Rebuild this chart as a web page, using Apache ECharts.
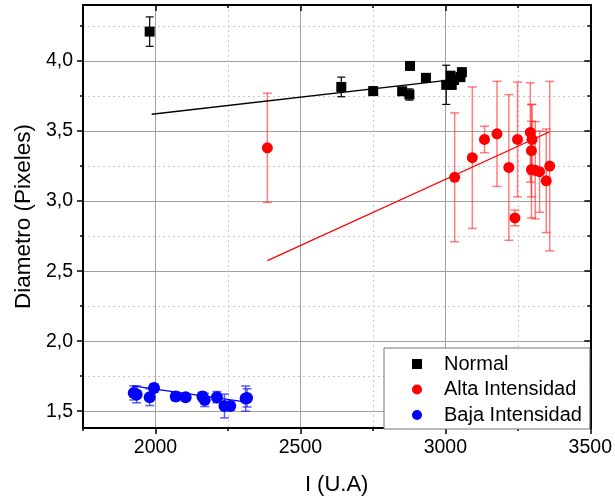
<!DOCTYPE html>
<html>
<head>
<meta charset="utf-8">
<script src="https://cdn.jsdelivr.net/npm/echarts@6/dist/echarts.min.js"></script>
<style>
  html, body { margin: 0; padding: 0; background: #fff; }
  #chart { width: 615px; height: 501px; }
</style>
</head>
<body>
<div id="chart"></div>
<script>
// Normal group: intensity, diameter, error
const normalX   = [1980, 2641, 2751, 2851, 2876, 2878, 2933, 3003, 3018, 3022, 3030, 3052, 3057];
const normalY   = [4.21, 3.815, 3.785, 3.784, 3.761, 3.965, 3.88, 3.83, 3.895, 3.83, 3.865, 3.885, 3.92];
const normalErr = [0.105, 0.07, 0.03, 0.02, 0.04, 0.02, 0.02, 0.14, 0.03, 0.03, 0.03, 0.03, 0.03];

// High intensity group
const altaX   = [2386, 3032, 3093, 3135, 3178, 3219, 3240, 3249, 3293, 3299, 3297, 3297, 3310, 3325, 3348, 3360];
const altaY   = [3.38, 3.17, 3.31, 3.44, 3.48, 3.24, 2.88, 3.44, 3.49, 3.44, 3.36, 3.225, 3.22, 3.21, 3.145, 3.25];
const altaErr = [0.39, 0.46, 0.505, 0.095, 0.375, 0.52, 0.056, 0.41, 0.355, 0.25, 0.33, 0.345, 0.347, 0.29, 0.37, 0.605];

// Low intensity group
const bajaX   = [1925, 1935, 1980, 1995, 2070, 2104, 2162, 2170, 2212, 2238, 2258, 2311, 2316];
const bajaY   = [1.63, 1.62, 1.60, 1.665, 1.605, 1.60, 1.605, 1.58, 1.60, 1.537, 1.537, 1.59, 1.595];
const bajaErr = [0.05, 0.06, 0.06, 0.03, 0.03, 0.02, 0.03, 0.047, 0.04, 0.085, 0.03, 0.09, 0.065];

// Linear fit endpoints
const fitNormalX = [1987, 3057], fitNormalY = [3.62, 3.875];
const fitAltaX   = [2386, 3360], fitAltaY   = [2.575, 3.495];
const fitBajaX   = [1920, 2315], fitBajaY   = [1.68, 1.565];

// Axis ranges and ticks
const xRange = [1750, 3500];
const yRange = [1.38, 4.40];
const xMajor = [2000, 2500, 3000, 3500];
const xMinor = [1750, 2250, 2750, 3250];
const yMajor = [1.5, 2.0, 2.5, 3.0, 3.5, 4.0];
const yMinor = [1.75, 2.25, 2.75, 3.25, 3.75, 4.25];

const seriesNames = ['Normal', 'Alta Intensidad', 'Baja Intensidad'];

const FONT = 'Liberation Sans, Arial, sans-serif';

function zip(xs, ys) { return xs.map((x, i) => [x, ys[i]]); }
function zip3(xs, ys, es) { return xs.map((x, i) => [x, ys[i], es[i]]); }

function errorBars(color, cap, width) {
  return function (params, api) {
    const x = api.value(0), y = api.value(1), e = api.value(2);
    const t = api.coord([x, y + e]);
    const b = api.coord([x, y - e]);
    const st = { stroke: color, lineWidth: width };
    return {
      type: 'group',
      children: [
        { type: 'line', shape: { x1: t[0], y1: t[1], x2: b[0], y2: b[1] }, style: st },
        { type: 'line', shape: { x1: t[0] - cap, y1: t[1], x2: t[0] + cap, y2: t[1] }, style: st },
        { type: 'line', shape: { x1: b[0] - cap, y1: b[1], x2: b[0] + cap, y2: b[1] }, style: st }
      ]
    };
  };
}

function xAxisDef(pos, ticks, opts) {
  return Object.assign({
    type: 'value', position: pos, min: xRange[0], max: xRange[1],
    axisLine: { show: true, lineStyle: { color: '#000', width: 2 } },
    axisTick: { show: true, customValues: ticks, length: 6, inside: false, lineStyle: { color: '#000', width: 1.5 } },
    axisLabel: { show: false },
    splitLine: { show: false }
  }, opts);
}
function yAxisDef(pos, ticks, opts) {
  return Object.assign({
    type: 'value', position: pos, min: yRange[0], max: yRange[1],
    axisLine: { show: true, lineStyle: { color: '#000', width: 2 } },
    axisTick: { show: true, customValues: ticks, length: 6, inside: false, lineStyle: { color: '#000', width: 1.5 } },
    axisLabel: { show: false },
    splitLine: { show: false }
  }, opts);
}

const chart = echarts.init(document.getElementById('chart'), null, { renderer: 'canvas' });

chart.setOption({
  animation: false,
  backgroundColor: '#fff',
  grid: { left: 83, right: 24, top: 5, bottom: 68 },
  legend: {
    data: seriesNames,
    orient: 'vertical',
    left: 384, top: 348,
    padding: [6, 8, 4, 28],
    itemWidth: 10, itemHeight: 10, itemGap: 5.5,
    backgroundColor: '#fff',
    borderColor: '#777', borderWidth: 1,
    textStyle: { fontFamily: FONT, fontSize: 20, color: '#000', padding: [0, 0, 0, 17] },
    z: 20
  },
  xAxis: [
    xAxisDef('bottom', xMinor, {
      axisTick: { show: true, customValues: xMinor, length: 3, lineStyle: { color: '#000', width: 1.5 } },
      splitLine: { show: true, lineStyle: { color: '#c8c8c8', type: [2, 3], width: 1 } }
    }),
    xAxisDef('bottom', xMajor, {
      axisLabel: {
        show: true, customValues: xMajor, margin: 10,
        fontFamily: FONT, fontSize: 19.5, color: '#000',
        formatter: v => String(v)
      },
      splitLine: { show: true, lineStyle: { color: '#a0a0a0', width: 1 } },
      name: 'I (U.A)', nameLocation: 'middle', nameGap: 46,
      nameTextStyle: { fontFamily: FONT, fontSize: 22, color: '#000' }
    }),
    xAxisDef('top', xMinor, {
      axisTick: { show: true, customValues: xMinor, length: 3, inside: true, lineStyle: { color: '#000', width: 1.5 } }
    }),
    xAxisDef('top', xMajor, {
      axisTick: { show: true, customValues: xMajor, length: 6, inside: true, lineStyle: { color: '#000', width: 1.5 } }
    })
  ],
  yAxis: [
    yAxisDef('left', yMinor, {
      axisTick: { show: true, customValues: yMinor, length: 3, lineStyle: { color: '#000', width: 1.5 } },
      splitLine: { show: true, lineStyle: { color: '#c8c8c8', type: [2, 3], width: 1 } }
    }),
    yAxisDef('left', yMajor, {
      axisLabel: {
        show: true, customValues: yMajor, margin: 10,
        fontFamily: FONT, fontSize: 19.5, color: '#000',
        formatter: v => v.toFixed(1).replace('.', ',')
      },
      splitLine: { show: true, lineStyle: { color: '#a0a0a0', width: 1 } },
      name: 'Diametro (Pixeles)', nameLocation: 'middle', nameGap: 46,
      nameTextStyle: { fontFamily: FONT, fontSize: 22.5, color: '#000' }
    }),
    yAxisDef('right', yMinor, {
      axisTick: { show: true, customValues: yMinor, length: 3, inside: true, lineStyle: { color: '#000', width: 1.5 } }
    }),
    yAxisDef('right', yMajor, {
      axisTick: { show: true, customValues: yMajor, length: 6, inside: true, lineStyle: { color: '#000', width: 1.5 } }
    })
  ],
  series: [
    // error bars
    { type: 'custom', name: 'errNormal', xAxisIndex: 1, yAxisIndex: 1, z: 3,
      renderItem: errorBars('#000', 4, 1.2), data: zip3(normalX, normalY, normalErr),
      encode: { x: 0, y: 1 } },
    { type: 'custom', name: 'errAlta', xAxisIndex: 1, yAxisIndex: 1, z: 3,
      renderItem: errorBars('rgba(255,40,40,0.6)', 4.5, 1.5), data: zip3(altaX, altaY, altaErr),
      encode: { x: 0, y: 1 } },
    { type: 'custom', name: 'errBaja', xAxisIndex: 1, yAxisIndex: 1, z: 3,
      renderItem: errorBars('rgba(40,40,255,0.75)', 4.5, 1.5), data: zip3(bajaX, bajaY, bajaErr),
      encode: { x: 0, y: 1 } },
    // linear fits
    { type: 'line', name: 'fitNormal', xAxisIndex: 1, yAxisIndex: 1, z: 4, symbol: 'none',
      lineStyle: { color: '#000', width: 1.3 }, data: zip(fitNormalX, fitNormalY) },
    { type: 'line', name: 'fitAlta', xAxisIndex: 1, yAxisIndex: 1, z: 4, symbol: 'none',
      lineStyle: { color: '#ff0000', width: 1.3 }, data: zip(fitAltaX, fitAltaY) },
    { type: 'line', name: 'fitBaja', xAxisIndex: 1, yAxisIndex: 1, z: 4, symbol: 'none',
      lineStyle: { color: '#0000ff', width: 1.3 }, data: zip(fitBajaX, fitBajaY) },
    // points
    { type: 'scatter', name: seriesNames[0], xAxisIndex: 1, yAxisIndex: 1, z: 5,
      symbol: 'rect', symbolSize: 10, itemStyle: { color: '#000', opacity: 1 },
      data: zip(normalX, normalY) },
    { type: 'scatter', name: seriesNames[1], xAxisIndex: 1, yAxisIndex: 1, z: 5,
      symbol: 'circle', symbolSize: 11, itemStyle: { color: '#ff0000', opacity: 1 },
      data: zip(altaX, altaY) },
    { type: 'scatter', name: seriesNames[2], xAxisIndex: 1, yAxisIndex: 1, z: 5,
      symbol: 'circle', symbolSize: 12, itemStyle: { color: '#0000ff', opacity: 1 },
      data: zip(bajaX, bajaY) }
  ]
});
</script>
</body>
</html>
